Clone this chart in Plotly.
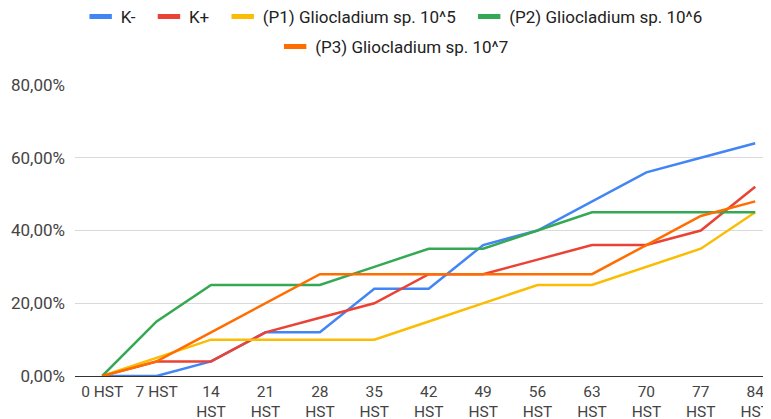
import plotly.graph_objects as go

categories = ["0 HST", "7 HST", "14 HST", "21 HST", "28 HST", "35 HST", "42 HST",
              "49 HST", "56 HST", "63 HST", "70 HST", "77 HST", "84 HST"]
tick_text = ["0 HST", "7 HST", "14<br>HST", "21<br>HST", "28<br>HST", "35<br>HST", "42<br>HST",
             "49<br>HST", "56<br>HST", "63<br>HST", "70<br>HST", "77<br>HST", "84<br>HST"]

k_minus = [0, 0, 4, 12, 12, 24, 24, 36, 40, 48, 56, 60, 64]
k_plus = [0, 4, 4, 12, 16, 20, 28, 28, 32, 36, 36, 40, 52]
p1 = [0, 5, 10, 10, 10, 10, 15, 20, 25, 25, 30, 35, 45]
p2 = [0, 15, 25, 25, 25, 30, 35, 35, 40, 45, 45, 45, 45]
p3 = [0, 4, 12, 20, 28, 28, 28, 28, 28, 28, 36, 44, 48]

series_names = ["K-", "K+", "(P1) Gliocladium sp. 10^5", "(P2) Gliocladium sp. 10^6",
                "(P3) Gliocladium sp. 10^7"]
series_values = [k_minus, k_plus, p1, p2, p3]
colors = ["#4285F4", "#EA4335", "#FBBC04", "#34A853", "#FF6D01"]
legend_ids = ["legend", "legend", "legend", "legend", "legend2"]

FONT = "Roboto, Arial, sans-serif"
PAD = "\u00a0\u00a0"

fig = go.Figure()
for name, vals, col in zip(series_names, series_values, colors):
    fig.add_trace(go.Scatter(
        x=categories, y=[v / 100 for v in vals], mode="lines", name=name,
        line=dict(color=col, width=2.5), showlegend=False, hoverinfo="skip"))

for name, col, lg in zip(series_names, colors, legend_ids):
    fig.add_trace(go.Scatter(
        x=[None], y=[None], mode="markers", name=name + PAD, legend=lg,
        marker=dict(symbol="line-ew", size=17, color=col, line=dict(width=6, color=col))))

# page body has an 8px margin, so the figure is sized to fill the rest of the window
fig.update_layout(
    width=763, height=411,
    margin=dict(l=67, r=0, t=77, b=43, autoexpand=False),
    paper_bgcolor="white", plot_bgcolor="white",
    separators=",.",
    font=dict(family=FONT, size=17, color="#222222"),
    legend=dict(orientation="h", x=0.512, xanchor="center", xref="container",
                y=1.2337, yanchor="middle", yref="paper",
                font=dict(size=17, color="#222222"), bgcolor="rgba(0,0,0,0)"),
    legend2=dict(orientation="h", x=0.512, xanchor="center", xref="container",
                 y=1.1306, yanchor="middle", yref="paper",
                 font=dict(size=17, color="#222222"), bgcolor="rgba(0,0,0,0)"),
    xaxis=dict(type="category", categoryorder="array", categoryarray=categories,
               tickmode="array", tickvals=categories, ticktext=tick_text,
               range=[-0.5, 12.29], showgrid=False, showline=True, linecolor="#333333",
               linewidth=1, ticks="", ticklabelstandoff=1, automargin=False,
               tickfont=dict(size=15.5, color="#444444"),
               layer="below traces"),
    yaxis=dict(range=[0, 0.8], tickvals=[0, 0.2, 0.4, 0.6, 0.8], tickformat=".2%",
               showgrid=True, gridcolor="#d9d9d9", gridwidth=1, zeroline=False,
               ticks="", ticklabelstandoff=9, automargin=False,
               tickfont=dict(size=17, color="#444444")),
)

fig.write_html("out.html")
